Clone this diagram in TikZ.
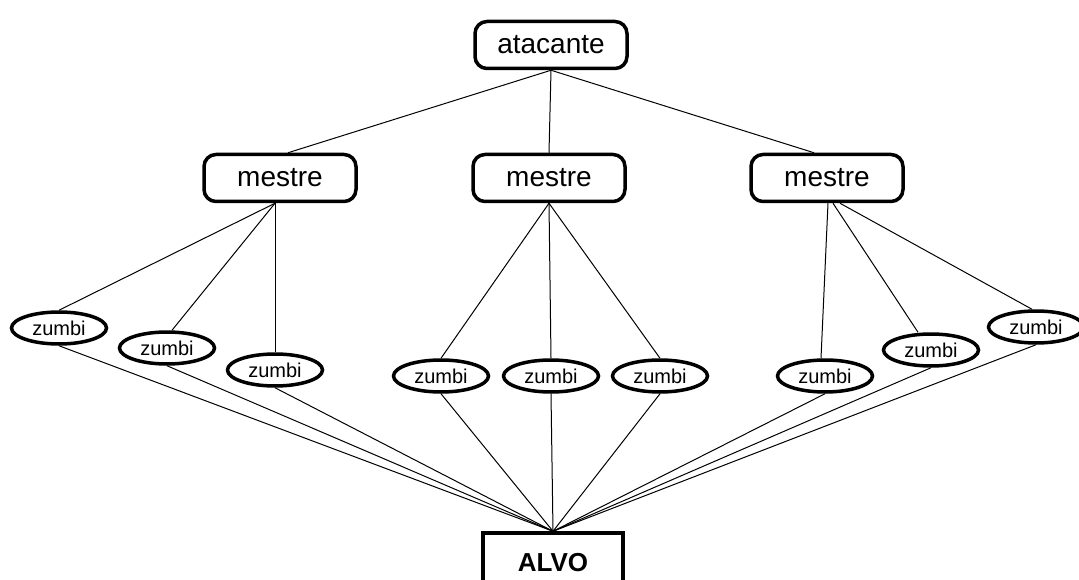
\documentclass[tikz,border=0pt]{standalone}
\usepackage{fontspec}
\setmainfont{Liberation Sans}
\usetikzlibrary{shapes.geometric}
\begin{document}
\begin{tikzpicture}[x=1pt,y=-1pt,
 box/.style={draw, line width=3.5pt, rounded corners=12pt, minimum width=152pt, minimum height=47pt, inner sep=0pt, font=\fontsize{28}{32}\selectfont},
 zb/.style={draw, ellipse, line width=3.5pt, minimum width=95pt, minimum height=32pt, inner sep=0pt, font=\fontsize{20}{22}\selectfont},
 target/.style={draw, line width=3.5pt, minimum width=140pt, minimum height=60pt, inner sep=0pt, font=\bfseries\fontsize{26}{30}\selectfont},
 ln/.style={line width=1pt}]
\useasboundingbox (0,0) rectangle (1079,580);
% top
\node[box] (at) at (551,45) {atacante};
% masters
\node[box] (ml) at (280,178) {mestre};
\node[box] (mm) at (549,178) {mestre};
\node[box] (mr) at (827,178) {mestre};
% zombies
\node[zb] (z1) at (59,328) {zumbi};
\node[zb] (z2) at (167,348) {zumbi};
\node[zb] (z3) at (275,370) {zumbi};
\node[zb] (z4) at (441,376) {zumbi};
\node[zb] (z5) at (551,376) {zumbi};
\node[zb] (z6) at (660,376) {zumbi};
\node[zb] (z7) at (825,376) {zumbi};
\node[zb] (z8) at (931,350) {zumbi};
\node[zb] (z9) at (1036,327) {zumbi};
% target
\node[target] (alvo) at (553,563) {ALVO};
% attacker to masters
\draw[ln] (at.south) -- ([xshift=8pt]ml.north);
\draw[ln] (at.south) -- (mm.north);
\draw[ln] (at.south) -- ([xshift=-13pt]mr.north);
% masters to zombies
\draw[ln] ([xshift=-5pt]ml.south) -- (z1.north);
\draw[ln] ([xshift=-5pt]ml.south) -- ([xshift=5pt]z2.north);
\draw[ln] ([xshift=-5pt]ml.south) -- (z3.north);
\draw[ln] (mm.south) -- (z4.north);
\draw[ln] (mm.south) -- (z5.north);
\draw[ln] (mm.south) -- (z6.north);
\draw[ln] ([xshift=1pt]mr.south) -- ([xshift=-4pt]z7.north);
\draw[ln] ([xshift=6pt]mr.south) -- ([xshift=-13pt]z8.north);
\draw[ln] ([xshift=13pt]mr.south) -- ([xshift=-4pt]z9.north);
% zombies to target
\foreach \z in {z1,z2,z3,z4,z5,z6,z7,z8,z9}
  \draw[ln] (\z.south) -- (alvo.north);
\end{tikzpicture}
\end{document}
